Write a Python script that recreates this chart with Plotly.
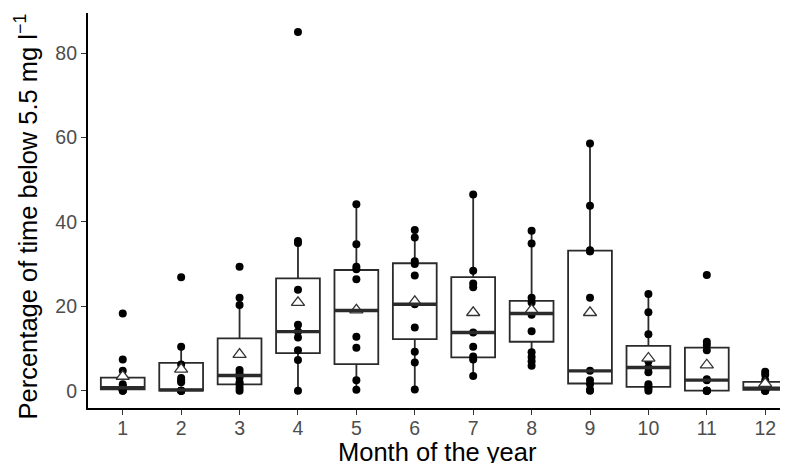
import plotly.graph_objects as go

months = [1, 2, 3, 4, 5, 6, 7, 8, 9, 10, 11, 12]
tick_labels = [str(m) for m in months]
y_ticks = [0, 20, 40, 60, 80]

# raw observations per month (percentage of time below 5.5 mg/l)
obs = {
    1: [18.3, 7.4, 4.7, 1.5, 1.0, 0.6, 0.3, 0.1, 0.0, 0.0],
    2: [26.9, 10.4, 6.2, 3.0, 2.5, 2.0, 0.0, 0.0, 0.0, 0.0],
    3: [29.4, 22.0, 20.3, 4.9, 4.1, 3.1, 2.0, 1.5, 0.7, 0.0],
    4: [85.0, 35.5, 35.0, 23.9, 15.6, 14.0, 12.6, 9.6, 7.3, 0.0],
    5: [44.2, 34.7, 29.4, 28.8, 26.4, 12.8, 10.2, 2.5, 0.2],
    6: [38.1, 36.3, 30.7, 30.0, 27.3, 20.5, 15.0, 9.2, 6.7, 0.3],
    7: [46.5, 28.4, 25.4, 24.5, 13.8, 10.4, 8.1, 7.4, 3.5],
    8: [37.9, 34.9, 22.0, 20.9, 18.0, 14.1, 9.1, 8.0, 7.0, 5.9],
    9: [58.6, 43.8, 33.3, 33.0, 22.0, 4.7, 2.5, 1.5, 0.2, 0.0],
    10: [22.9, 18.6, 13.4, 7.0, 5.5, 4.4, 1.5, 1.0, 0.5, 0.0],
    11: [27.4, 11.6, 10.8, 9.6, 2.7, 2.5, 0.0, 0.0, 0.0, 0.0],
    12: [4.5, 3.8, 2.5, 1.8, 1.0, 0.5, 0.3, 0.0, 0.0, 0.0],
}

# box statistics
q1 = [0.3, 0.0, 1.5, 8.9, 6.3, 12.2, 7.9, 11.6, 1.7, 0.9, 0.0, 0.2]
median = [0.7, 0.2, 3.6, 14.0, 19.0, 20.5, 13.8, 18.3, 4.7, 5.5, 2.5, 0.6]
q3 = [3.1, 6.6, 12.4, 26.6, 28.6, 30.2, 26.9, 21.3, 33.2, 10.6, 10.2, 2.1]
lower_whisker = [0.0, 0.0, 0.0, 0.0, 0.2, 0.3, 3.5, 5.9, 0.0, 0.0, 0.0, 0.0]
upper_whisker = [4.7, 10.4, 22.0, 35.5, 44.2, 38.1, 46.5, 37.9, 58.6, 22.9, 11.6, 4.5]
means = [3.4, 5.1, 8.6, 20.9, 19.1, 21.1, 18.5, 19.1, 18.5, 7.7, 6.1, 1.7]

x_title = "Month of the year"
y_title = "Percentage of time below 5.5 mg l<sup>\u22121</sup>"

BOX_W = 0.75
LINE_C = "#2b2b2b"
OFF = 8  # page body margin of the browser
W, H = 788 - OFF, 463 - OFF
ML, MR, MT, MB = 88 - OFF, 0, 13 - OFF, 55
PW, PH = W - ML - MR, H - MT - MB

fig = go.Figure()

fig.add_trace(go.Box(
    x=months, q1=q1, median=median, q3=q3,
    lowerfence=lower_whisker, upperfence=upper_whisker,
    width=BOX_W, whiskerwidth=0, boxpoints=False,
    fillcolor="rgba(255,255,255,0)",
    line=dict(color=LINE_C, width=1.8),
    showlegend=False, hoverinfo="skip",
))

# thicker median bars (ggplot fatten)
for m, md in zip(months, median):
    fig.add_shape(type="line", xref="x", yref="y",
                  x0=m - BOX_W / 2, x1=m + BOX_W / 2, y0=md, y1=md,
                  line=dict(color=LINE_C, width=3.4))

px_, py_ = [], []
for m in months:
    for v in obs[m]:
        px_.append(m)
        py_.append(v)

fig.add_trace(go.Scatter(
    x=px_, y=py_, mode="markers",
    marker=dict(color="black", size=8),
    showlegend=False, hoverinfo="skip",
))

fig.add_trace(go.Scatter(
    x=months, y=means, mode="markers",
    marker=dict(symbol="triangle-up", color="white", size=11.5,
                line=dict(width=1.3, color="#333333")),
    showlegend=False, hoverinfo="skip",
))

FONT = "Liberation Sans, Arial, Helvetica, sans-serif"

fig.update_layout(
    width=W, height=H,
    margin=dict(l=ML, r=MR, t=MT, b=MB),
    paper_bgcolor="white", plot_bgcolor="white",
    font=dict(family=FONT, color="black"),
    xaxis=dict(
        range=[0.405, 12.39], tickmode="array", tickvals=months,
        ticktext=tick_labels, showgrid=False, zeroline=False,
        showline=True, linecolor="black", linewidth=2.2,
        ticks="outside", ticklen=5, tickwidth=1.3, tickcolor="#333333",
        tickfont=dict(size=19.5, color="#4D4D4D"), automargin=False,
        ticklabelstandoff=-4,
    ),
    yaxis=dict(
        range=[-4.1, 89.5], tickmode="array", tickvals=y_ticks,
        showgrid=False, zeroline=False,
        showline=True, linecolor="black", linewidth=2.2,
        ticks="outside", ticklen=5, tickwidth=1.3, tickcolor="#333333",
        tickfont=dict(size=19.5, color="#4D4D4D"), automargin=False,
    ),
    annotations=[
        dict(text=x_title, xref="paper", yref="paper",
             x=(437 - OFF - ML) / PW, y=-(436 - OFF - MT - PH) / PH,
             xanchor="center", yanchor="top", showarrow=False,
             font=dict(size=25.5, color="black")),
        dict(text=y_title, xref="paper", yref="paper", textangle=-90,
             x=(26.5 - OFF - ML) / PW, y=(H - MB - (217 - OFF)) / PH,
             xanchor="center", yanchor="middle", showarrow=False,
             font=dict(size=25.5, color="black")),
    ],
)

fig.write_html("out.html")
